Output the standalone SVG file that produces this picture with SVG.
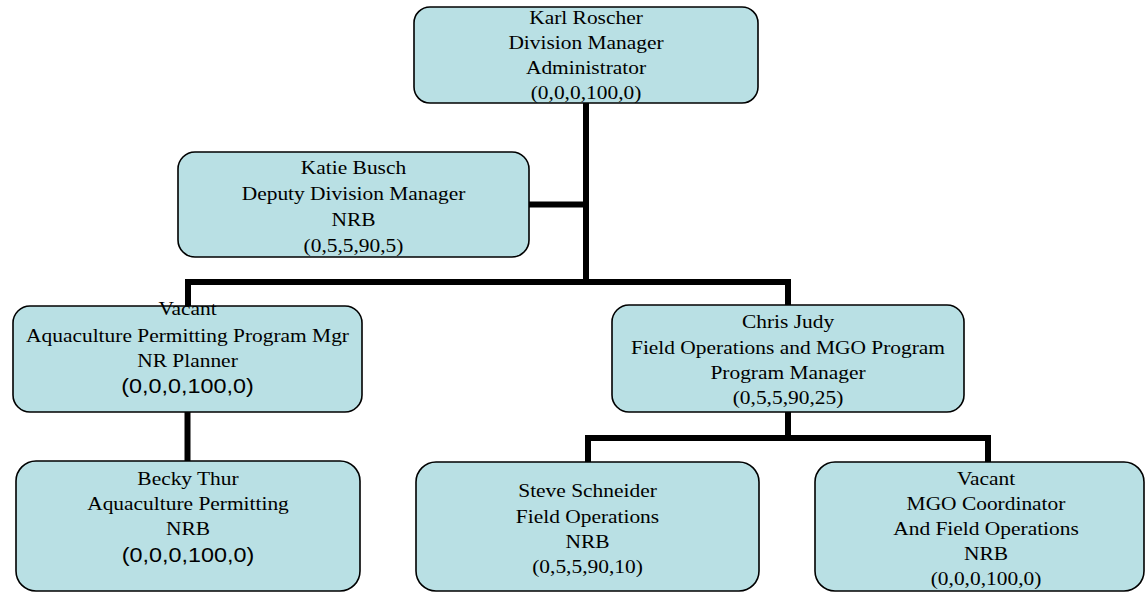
<svg xmlns="http://www.w3.org/2000/svg" width="1146" height="593" viewBox="0 0 1146 593">
<style>
.box{fill:#b9e0e4;stroke:#000;stroke-width:1.6}
.t{font-family:"Liberation Serif","Times New Roman",serif;font-size:18.8px;fill:#000;text-anchor:middle}
.s{font-family:"Liberation Sans",Arial,sans-serif;font-size:20.5px;fill:#000;text-anchor:middle}
.c{fill:none;stroke:#000;stroke-width:6;stroke-linejoin:miter}
</style>
<rect width="1146" height="593" fill="#fff"/>
<g id="connectors">
<path class="c" d="M586 103 V282"/>
<path class="c" d="M529 204.5 H586"/>
<path class="c" d="M188 306 V282 H788 V306"/>
<path class="c" d="M187.5 412 V461"/>
<path class="c" d="M788 412 V438"/>
<path class="c" d="M588 462 V438 H988 V462"/>
</g>
<g id="karl">
<rect class="box" x="414" y="7" width="344" height="96" rx="16"/>
<g transform="translate(586,0) scale(1.14,1)">
<text class="t" x="0" y="24">Karl Roscher</text>
<text class="t" x="0" y="49">Division Manager</text>
<text class="t" x="0" y="74">Administrator</text>
<text class="t" x="0" y="99">(0,0,0,100,0)</text>
</g>
</g>
<g id="katie">
<rect class="box" x="178" y="152" width="351" height="105" rx="17"/>
<g transform="translate(353.5,0) scale(1.14,1)">
<text class="t" x="0" y="174">Katie Busch</text>
<text class="t" x="0" y="200">Deputy Division Manager</text>
<text class="t" x="0" y="226">NRB</text>
<text class="t" x="0" y="252">(0,5,5,90,5)</text>
</g>
</g>
<g id="vacant-aquaculture">
<rect class="box" x="13" y="306" width="349" height="106" rx="17"/>
<g transform="translate(187.5,0) scale(1.14,1)">
<text class="t" x="0" y="315">Vacant</text>
<text class="t" x="0" y="342">Aquaculture Permitting Program Mgr</text>
<text class="t" x="0" y="367">NR Planner</text>
<text class="s" x="0" y="393">(0,0,0,100,0)</text>
</g>
</g>
<g id="chris">
<rect class="box" x="612" y="305" width="352" height="107" rx="17"/>
<g transform="translate(788,0) scale(1.14,1)">
<text class="t" x="0" y="328">Chris Judy</text>
<text class="t" x="0" y="354">Field Operations and MGO Program</text>
<text class="t" x="0" y="379">Program Manager</text>
<text class="t" x="0" y="404">(0,5,5,90,25)</text>
</g>
</g>
<g id="becky">
<rect class="box" x="16" y="461" width="344" height="130" rx="20"/>
<g transform="translate(188,0) scale(1.14,1)">
<text class="t" x="0" y="485">Becky Thur</text>
<text class="t" x="0" y="510">Aquaculture Permitting</text>
<text class="t" x="0" y="535">NRB</text>
<text class="s" x="0" y="562">(0,0,0,100,0)</text>
</g>
</g>
<g id="steve">
<rect class="box" x="416" y="462" width="343" height="129" rx="20"/>
<g transform="translate(587.5,0) scale(1.14,1)">
<text class="t" x="0" y="497">Steve Schneider</text>
<text class="t" x="0" y="523">Field Operations</text>
<text class="t" x="0" y="548">NRB</text>
<text class="t" x="0" y="573">(0,5,5,90,10)</text>
</g>
</g>
<g id="vacant-mgo">
<rect class="box" x="815" y="462" width="329" height="129" rx="20"/>
<g transform="translate(986,0) scale(1.14,1)">
<text class="t" x="0" y="485">Vacant</text>
<text class="t" x="0" y="510">MGO Coordinator</text>
<text class="t" x="0" y="535">And Field Operations</text>
<text class="t" x="0" y="560">NRB</text>
<text class="t" x="0" y="585">(0,0,0,100,0)</text>
</g>
</g>
</svg>
